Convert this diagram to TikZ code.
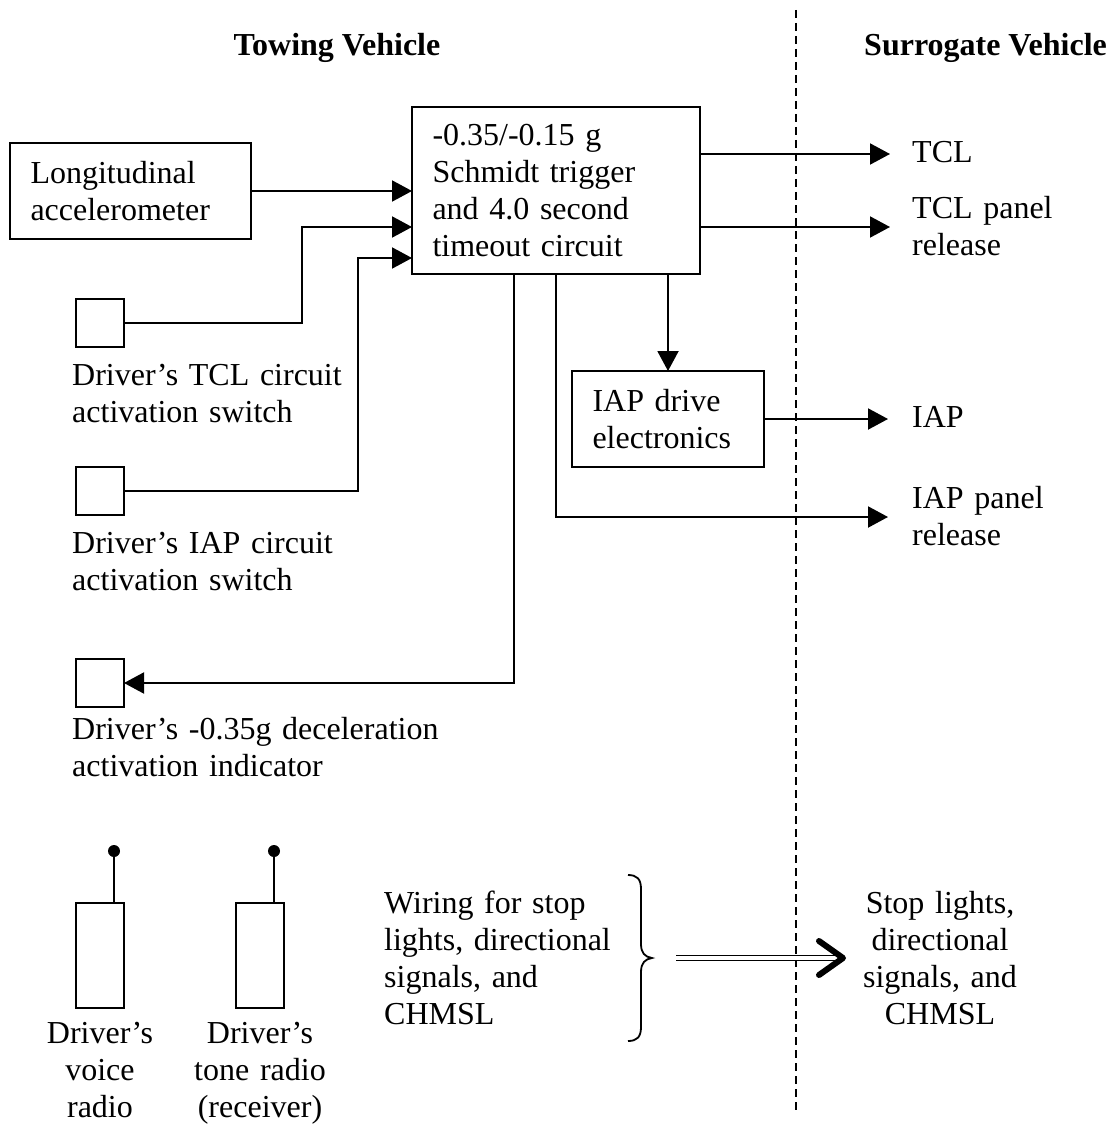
\documentclass[tikz,border=0pt]{standalone}
\usepackage{fontspec}
\setmainfont{Liberation Serif}
\usetikzlibrary{arrows.meta}
\begin{document}
\begin{tikzpicture}[x=1pt,y=-1pt,
  every node/.style={font=\fontsize{32}{37}\selectfont},
  box/.style={draw, line width=2pt, inner xsep=20.5pt, inner ysep=0pt, outer sep=0pt, align=left, anchor=north west},
  sq/.style={draw, line width=2pt, minimum width=48pt, minimum height=48pt, inner sep=0pt, outer sep=0pt},
  radio/.style={draw, line width=2pt, minimum width=48pt, minimum height=105pt, inner sep=0pt, outer sep=0pt},
  dot/.style={circle, fill=black, inner sep=0pt, minimum size=12pt},
  lbl/.style={inner sep=0pt, anchor=base west, text width=400pt, align=left},
  rlbl/.style={inner sep=0pt, anchor=base west, text width=190pt, align=left},
  clbl/.style={inner sep=0pt, anchor=base, text width=200pt, align=center},
  ttl/.style={inner sep=0pt, font=\bfseries\fontsize{32}{37}\selectfont},
  wire/.style={line width=2pt},
  arr/.style={line width=2pt, -{Triangle[length=20pt,width=21pt]}},
]
\useasboundingbox (0,0) rectangle (1113,1126);

% divider
\coordinate (dtop) at (796,10);
\coordinate (dbot) at (796,1110);
\draw[line width=1.5pt, dash pattern=on 8pt off 5pt] (dtop) -- (dbot);

% titles
\node[ttl, anchor=base] (t1) at (337,56) {Towing Vehicle};
\node[ttl, anchor=base west] (t2) at (864,56) {Surrogate Vehicle};

% boxes
\node[box, text width=247pt, minimum width=288pt, minimum height=167pt] (main) at (412,107)
  {-0.35/-0.15 g\\Schmidt trigger\\and 4.0 second\\timeout circuit};
\node[box, text width=200pt, minimum width=241pt, minimum height=96pt] (acc) at (10,143)
  {Longitudinal\\accelerometer};
\node[box, text width=151pt, minimum width=192pt, minimum height=96pt] (iapd) at (572,371)
  {IAP drive\\electronics};

% switches and indicator
\node[sq] (sw1) at (100,323) {};
\node[sq] (sw2) at (100,491) {};
\node[sq] (ind) at (100,683) {};
\node[lbl] (l1) at (72,385) {Driver’s TCL circuit\\activation switch};
\node[lbl] (l2) at (72,553) {Driver’s IAP circuit\\activation switch};
\node[lbl] (l3) at (72,739) {Driver’s -0.35g deceleration\\activation indicator};

% outputs
\coordinate (tclT) at (890,154);
\coordinate (tclpT) at (890,227);
\coordinate (iapT) at (888,419);
\coordinate (iaprT) at (888,517);
\node[rlbl] (o1) at (912,163) {TCL};
\node[rlbl] (o2) at (912,218) {TCL panel\\release};
\node[rlbl] (o3) at (912,427) {IAP};
\node[rlbl] (o4) at (912,508) {IAP panel\\release};

% connectors
\draw[arr] (acc.east) -- (acc.east -| main.west);
\draw[arr] (sw1.east) -| (302,227) -- ([yshift=-36.5pt]main.west);
\draw[arr] (sw2.east) -| (358,258) -- ([yshift=-67.5pt]main.west);
\draw[arr] ([xshift=-42pt]main.south) |- (ind.east);
\draw[arr] (main.south -| iapd.north) -- (iapd.north);
\draw[arr] (main.south) |- (iaprT);
\draw[arr] ([yshift=36.5pt]main.east) -- (tclT);
\draw[arr] ([yshift=-36.5pt]main.east) -- (tclpT);
\draw[arr] (iapd.east) -- (iapT);

% radios
\node[radio] (rad1) at (100,955.5) {};
\node[radio] (rad2) at (260,955.5) {};
\node[dot] (ant1) at (114,851) {};
\node[dot] (ant2) at (274,851) {};
\draw[line width=1.5pt] (ant1) -- (ant1 |- rad1.north);
\draw[line width=1.5pt] (ant2) -- (ant2 |- rad2.north);
\node[clbl] (l6) at (100,1043) {Driver’s\\voice\\radio};
\node[clbl] (l7) at (260,1043) {Driver’s\\tone radio\\(receiver)};

% wiring
\node[lbl] (l4) at (384,913) {Wiring for stop\\lights, directional\\signals, and\\CHMSL};
\node[clbl] (l5) at (940,913) {Stop lights,\\directional\\signals, and\\CHMSL};
\coordinate (btip) at (652,958);
\draw[line width=1.8pt] (628,875) .. controls (637,875) and (641,879) .. (641,889)
  -- (641,944) .. controls (641,953) and (645,957) .. (btip)
  .. controls (645,959) and (641,963) .. (641,972)
  -- (641,1027) .. controls (641,1037) and (637,1041) .. (628,1041);
\coordinate (dblS) at (676,958);
\coordinate (dblE) at (843,958);
\draw[double, double distance=3.5pt, line width=1.6pt] (dblS) -- (dblE);
\draw[line width=6pt, line cap=round, line join=round]
  ([shift={(-24,-17)}]dblE) -- (dblE) -- ([shift={(-24,17)}]dblE);
\end{tikzpicture}
\end{document}
